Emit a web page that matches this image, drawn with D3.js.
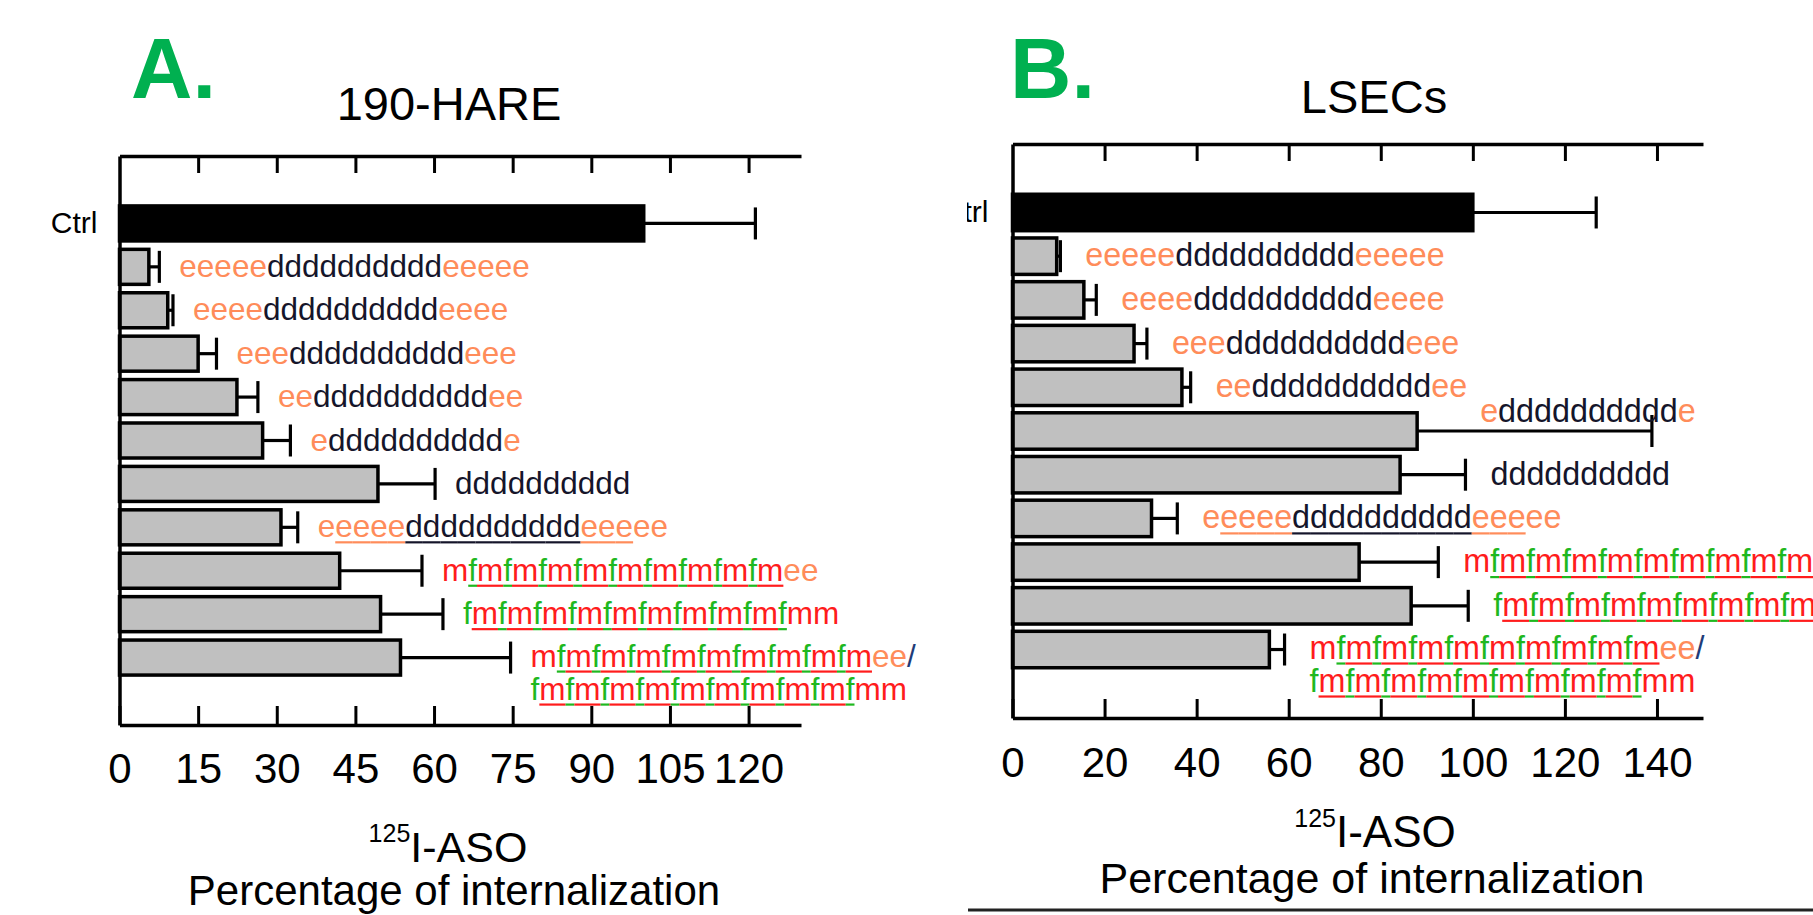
<!DOCTYPE html>
<html><head><meta charset="utf-8">
<script src="https://cdn.jsdelivr.net/npm/d3@7"></script>
<style>
body{margin:0;background:#fff}
svg{display:block}
text{font-family:Arial,"Liberation Sans",sans-serif}
</style>
</head><body>
<svg id="chart" width="1813" height="915"></svg>
<script>
// ---------------- data ----------------
const categories = ["Ctrl","ASO1","ASO2","ASO3","ASO4","ASO5","ASO6","ASO7","ASO8","ASO9","ASO10"];
// sequence labels: e = MOE, d = DNA, m = 2'-OMe, f = 2'-F ; [ ... ] = underlined stretch
const seqLabels = [
  [],
  ["eeeeeddddddddddeeeee"],
  ["eeeeddddddddddeeee"],
  ["eeeddddddddddeee"],
  ["eeddddddddddee"],
  ["edddddddddde"],
  ["dddddddddd"],
  ["e[eeeeddddddddddeee]ee"],
  ["m[fmfmfmfmfmfmfmfmfm]ee"],
  ["f[mfmfmfmfmfmfmfmfmf]mm"],
  ["m[fmfmfmfmfmfmfmfmfm]ee/", "f[mfmfmfmfmfmfmfmfmf]mm"]
];
// Panel A: 190-HARE, % internalization (mean, SEM)
const hareMeans = [100, 5.6, 9.2, 15.0, 22.4, 27.3, 49.3, 30.8, 42.0, 49.8, 53.6];
const hareErr   = [21.3, 2.0, 1.0, 3.5, 4.0, 5.3, 10.9, 3.2, 15.7, 11.9, 21.0];
// Panel B: LSECs
const lsecMeans = [100, 9.6, 15.5, 26.4, 36.8, 87.9, 84.2, 30.2, 75.3, 86.6, 55.8];
const lsecErr   = [26.8, 0.8, 2.7, 2.8, 1.9, 51.0, 14.2, 5.6, 17.2, 12.4, 3.3];
const ticksA = [0, 15, 30, 45, 60, 75, 90, 105, 120];
const ticksB = [0, 20, 40, 60, 80, 100, 120, 140];

const charColor = {e:"#FF8C5A", d:"#15152a", m:"#FF1C1C", f:"#1FB81F", "/":"#1F3C78", " ":"#000"};

const svg = d3.select("#chart");

const panels = [
  {key:"A", means:hareMeans, errs:hareErr, ticks:ticksA, domain:[0,130],
   left:119.5, right:801, top:156, bottom:725, bw:35,
   labelFont:31.5, gap:20, raised:-1,
   title:"190-HARE", titleX:449, titleY:120, titleSize:47,
   letter:"A.", letterX:131, letterY:98,
   tickY:58, asoX:448, asoY:862, asoSize:43, pctX:454, pctY:905, pctSize:42, ctrlGap:22},
  {key:"B", means:lsecMeans, errs:lsecErr, ticks:ticksB, domain:[0,150],
   left:1012.5, right:1703, top:144, bottom:718, bw:36.5,
   labelFont:32.3, gap:25, raised:5,
   title:"LSECs", titleX:1374, titleY:113, titleSize:47,
   letter:"B.", letterX:1010, letterY:98,
   tickY:59, asoX:1375, asoY:847, asoSize:44, pctX:1372, pctY:893, pctSize:43, ctrlGap:24,
   clipX:967}
];

const defs = svg.append("defs");

panels.forEach(p => {
  const g = svg.append("g").attr("class","panel-"+p.key);
  if (p.clipX !== undefined) {
    defs.append("clipPath").attr("id","clip"+p.key)
      .append("rect").attr("x",p.clipX).attr("y",0).attr("width",1813-p.clipX).attr("height",915);
    g.attr("clip-path","url(#clip"+p.key+")");
  }

  const x = d3.scaleLinear().domain(p.domain).range([p.left, p.right]);
  const step = (p.bottom - p.top) / 13.11;
  const y = d3.scaleBand().domain(categories).range([p.top, p.bottom])
    .paddingInner(1 - p.bw/step).paddingOuter(1.15);
  const bw = y.bandwidth();

  // panel letter & title
  g.append("text").attr("x",p.letterX).attr("y",p.letterY)
    .attr("font-size",85).attr("font-weight","bold").attr("fill","#00B050").text(p.letter);
  g.append("text").attr("x",p.titleX).attr("y",p.titleY).attr("text-anchor","middle")
    .attr("font-size",p.titleSize).attr("fill","#000").text(p.title);

  // bars
  const rows = categories.map((c,i)=>({c, i, mean:p.means[i], err:p.errs[i], lines:seqLabels[i]}));
  g.selectAll("rect.bar").data(rows).join("rect").attr("class","bar")
    .attr("x", x(0)).attr("y", d=>y(d.c))
    .attr("width", d=>x(d.mean)-x(0)).attr("height", bw)
    .attr("fill", d=>d.i===0 ? "#000" : "#C0C0C0")
    .attr("stroke","#000").attr("stroke-width",3.5);

  // error bars
  g.selectAll("line.err").data(rows).join("line").attr("class","err")
    .attr("x1", d=>x(d.mean)).attr("x2", d=>x(d.mean+d.err))
    .attr("y1", d=>y(d.c)+bw/2).attr("y2", d=>y(d.c)+bw/2)
    .attr("stroke","#000").attr("stroke-width",3.2);
  g.selectAll("line.cap").data(rows).join("line").attr("class","cap")
    .attr("x1", d=>x(d.mean+d.err)).attr("x2", d=>x(d.mean+d.err))
    .attr("y1", d=>y(d.c)+bw/2-16).attr("y2", d=>y(d.c)+bw/2+16)
    .attr("stroke","#000").attr("stroke-width",3.2);

  // axes
  const axTop = d3.axisTop(x).tickValues(p.ticks.slice(1)).tickSize(-17).tickSizeOuter(0).tickFormat("");
  const gt = g.append("g").attr("transform",`translate(0,${p.top})`).call(axTop);
  const axBot = d3.axisBottom(x).tickValues(p.ticks).tickSize(-19).tickSizeOuter(0).tickFormat(d3.format("d"));
  const gb = g.append("g").attr("transform",`translate(0,${p.bottom})`).call(axBot);
  const axL = d3.axisLeft(y).tickValues([]).tickSizeOuter(0);
  const gl = g.append("g").attr("transform",`translate(${p.left},0)`).call(axL);
  [gt,gb,gl].forEach(a=>{
    a.select(".domain").attr("stroke","#000").attr("stroke-width",3.5);
    a.selectAll(".tick line").attr("stroke","#000").attr("stroke-width",3);
  });
  gb.selectAll(".tick text").attr("y",p.tickY).attr("dy",0)
    .attr("font-size",42).attr("fill","#000")
    .style("font-family",'Arial,"Liberation Sans",sans-serif');

  // Ctrl label
  g.append("text").attr("x",p.left - p.ctrlGap).attr("y", y("Ctrl")+bw/2+10)
    .attr("text-anchor","end").attr("font-size",30).attr("fill","#000").text("Ctrl");

  // sequence labels
  rows.filter(d=>d.lines.length).forEach(d=>{
    const cy = y(d.c)+bw/2;
    let lx = x(d.mean+d.err) + p.gap;
    let baseYs = d.lines.length===1 ? [cy+10] : [cy+9, cy+42];
    if (d.i === p.raised) { lx = x(d.mean) + 63; baseYs = [cy-9]; }
    d.lines.forEach((src, li)=>{
      const chars = [];
      let ul = false;
      for (const ch of src) {
        if (ch === "[") { ul = true; continue; }
        if (ch === "]") { ul = false; continue; }
        chars.push({ch, ul});
      }
      // group consecutive same-colour characters into runs
      const runs = [];
      chars.forEach(c=>{
        const col = charColor[c.ch]||"#000";
        if (runs.length && runs[runs.length-1].col === col) runs[runs.length-1].txt += c.ch;
        else runs.push({col, txt:c.ch});
      });
      const t = g.append("text").attr("x",lx).attr("y",baseYs[li])
        .attr("font-size",p.labelFont);
      runs.forEach(r=>t.append("tspan").attr("fill",r.col).text(r.txt));
      const node = t.node();
      chars.forEach((c,k)=>{
        if (!c.ul) return;
        const ext = node.getExtentOfChar(k);
        g.append("line")
          .attr("x1",ext.x).attr("x2",ext.x+ext.width)
          .attr("y1",baseYs[li]+5).attr("y2",baseYs[li]+5)
          .attr("stroke",charColor[c.ch]).attr("stroke-width",2.2);
      });
    });
  });

  // axis titles
  const at = g.append("text").attr("x",p.asoX).attr("y",p.asoY).attr("text-anchor","middle").attr("fill","#000");
  at.append("tspan").attr("font-size",25).attr("dy",-20).text("125");
  at.append("tspan").attr("font-size",p.asoSize).attr("dy",20).text("I-ASO");
  g.append("text").attr("x",p.pctX).attr("y",p.pctY).attr("text-anchor","middle")
    .attr("font-size",p.pctSize).attr("fill","#000").text("Percentage of internalization");

  if (p.key === "B") {
    g.append("line").attr("x1",968).attr("x2",1813).attr("y1",910).attr("y2",910)
      .attr("stroke","#222").attr("stroke-width",3);
  }
});
</script>
</body></html>
